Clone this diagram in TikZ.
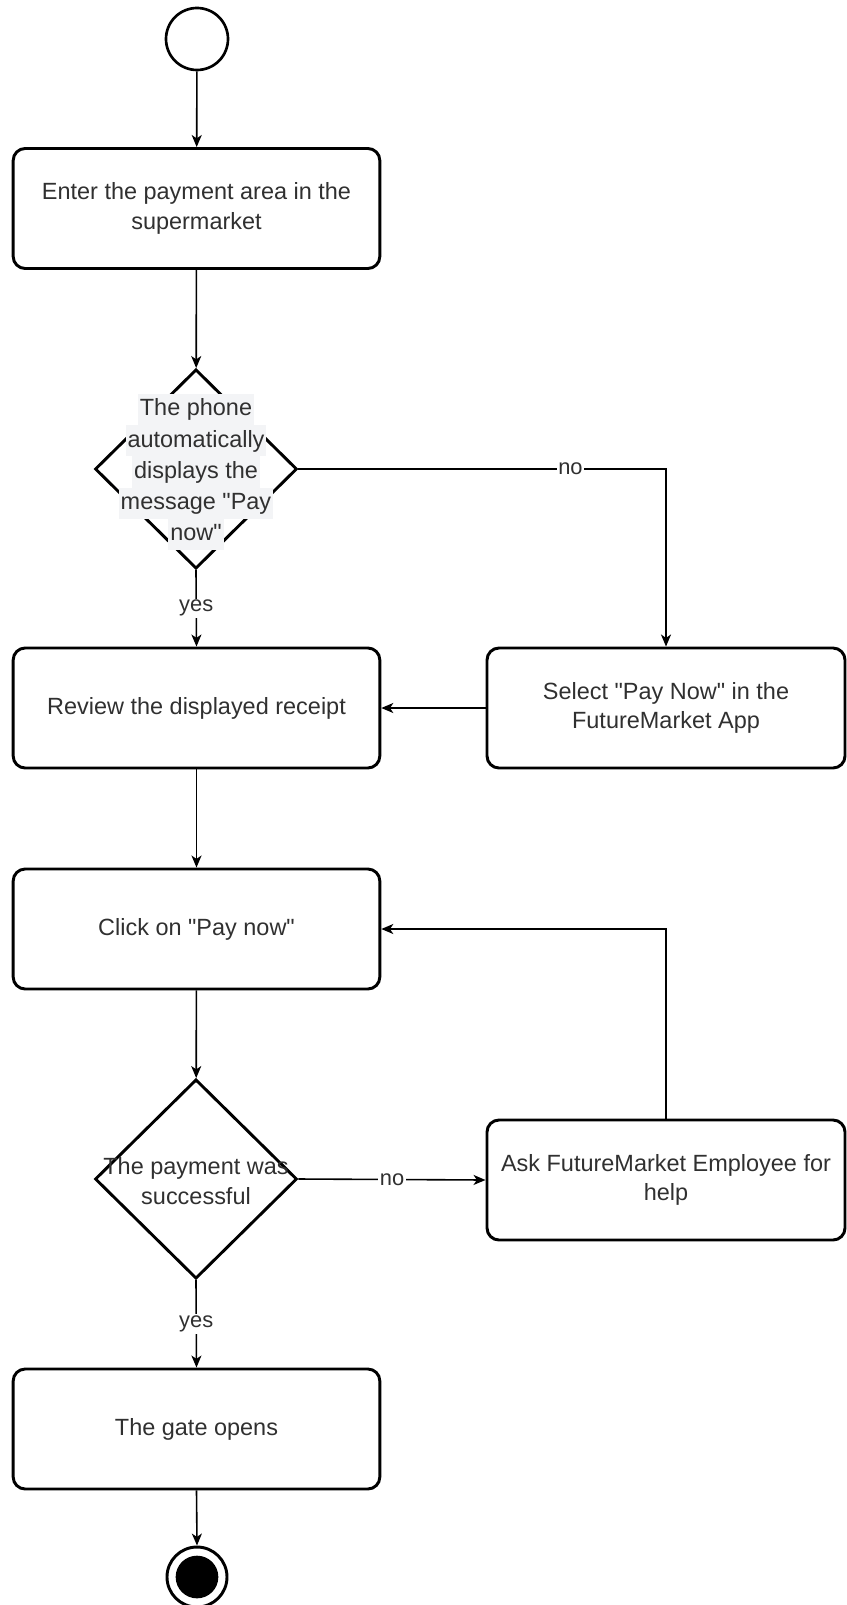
\documentclass[tikz,border=0pt]{standalone}
\usepackage{fontspec}
\setmainfont{Liberation Sans}[Ligatures=TeXOff]
\usetikzlibrary{shapes.geometric,arrows.meta}
\definecolor{txt}{HTML}{303030}
\definecolor{lblbg}{HTML}{F3F4F6}
% light band behind each line of a decision text
\newcommand{\linebg}[1]{{\setlength{\fboxsep}{0pt}\colorbox{lblbg}{\strut\kern1.5pt#1\kern1.5pt}}}

\begin{document}
\begin{tikzpicture}[x=0.75pt,y=-0.75pt,
  act/.style={draw=black, line width=2.2pt, rounded corners=9pt,
    minimum width=275pt, minimum height=90pt, inner sep=0pt,
    align=center, text=txt, font=\fontsize{17.6}{22.3}\selectfont},
  actr/.style={act, minimum width=268.5pt},
  decision/.style={draw=black, line width=2.2pt, diamond, inner sep=0pt,
    minimum width=151.5pt, minimum height=149.5pt},
  dtext/.style={align=center, text=txt, inner sep=0pt},
  initial/.style={circle, draw=black, line width=2pt, minimum size=46.5pt, inner sep=0pt},
  final/.style={circle, fill=black, minimum size=32pt, inner sep=0pt},
  flow/.style={draw=black, line width=1.2pt,
    -{Stealth[length=9pt,width=7.5pt,inset=2.5pt]}},
  elabel/.style={fill=white, inner sep=1.2pt, text=txt,
    font=\fontsize{16.4}{19}\selectfont}]

\useasboundingbox (0,0) rectangle (846,1605);

% initial node
\node[initial] (start) at (197,39) {};

% activities
\node[act] (enter) at (196.5,208.5) {Enter the payment area in the\\supermarket};
\node[act] (review) at (196.5,708) {Review the displayed receipt};
\node[actr] (select) at (666,708) {Select "Pay Now" in the\\FutureMarket App};
\node[act] (click) at (196.5,929) {Click on "Pay now"};
\node[actr] (ask) at (666,1180) {Ask FutureMarket Employee for\\help};
\node[act] (gate) at (196.5,1429) {The gate opens};

% decisions
\node[decision] (d1) at (196,469) {};
\node[dtext, font=\fontsize{17.6}{23.4}\selectfont] (d1txt) at (196,472)
  {\linebg{The phone}\\\linebg{automatically}\\\linebg{displays the}\\\linebg{message "Pay}\\\linebg{now"}};
\node[decision] (d2) at (196,1179) {};
\node[dtext, font=\fontsize{17.6}{22}\selectfont] (d2txt) at (196,1181)
  {The payment was\\successful};

% final node
\node[circle, draw=black, line width=2.2pt, minimum size=45pt, inner sep=0pt] (endo) at (197,1577) {};
\node[final] (endi) at (197,1577) {};

% control flow
\draw[flow] (start) -- (enter);
\draw[flow] (enter) -- (d1);
\draw[flow] (d1.south) -- node[elabel] (y1) {yes} (review.north);
\draw[flow] (d1.east) -| node[elabel, pos=0.37] (n1) {no} (select.north);
\draw[flow] (select.west) -- (review.east);
\draw[flow] (review) -- (click);
\draw[flow] (click) -- (d2);
\draw[flow] (d2.east) -- node[elabel] (n2) {no} (ask.west);
\draw[flow] (ask.north) |- (click.east);
\draw[flow] (d2.south) -- node[elabel] (y2) {yes} (gate.north);
\draw[flow] (gate.south) -- (endo.north);

\end{tikzpicture}
\end{document}
